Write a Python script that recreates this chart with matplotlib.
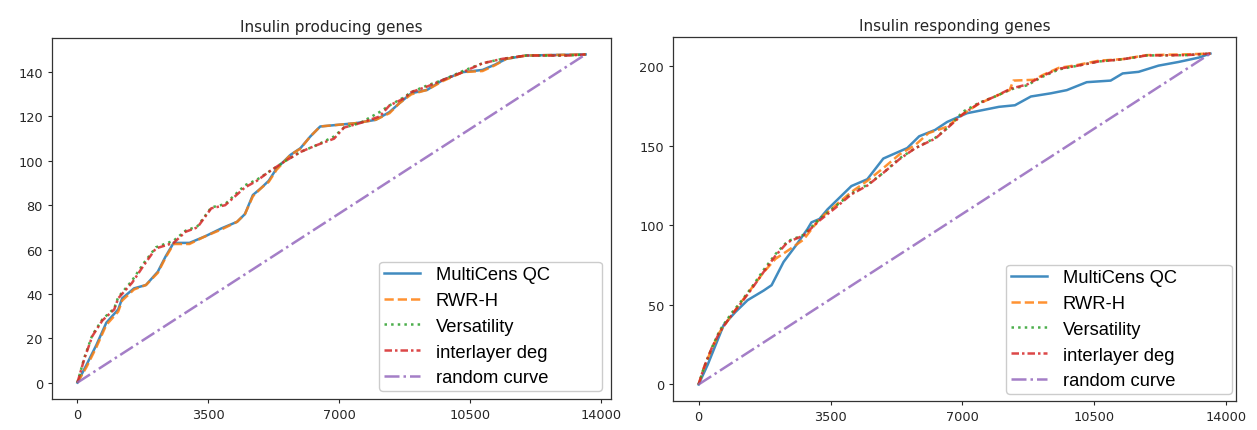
import matplotlib
matplotlib.use("Agg")
import matplotlib.pyplot as plt

# ---------------- data ----------------
titles = ["Insulin producing genes", "Insulin responding genes"]
labels = ["MultiCens QC", "RWR-H", "Versatility", "interlayer deg", "random curve"]
x_ticks = [0, 3500, 7000, 10500, 14000]

# Left panel: insulin producing genes
ip_multicens_x = [0, 243, 508, 772, 1090, 1196, 1513, 1831, 2148, 2360, 2571, 2994, 3418, 3842, 4265, 4476,
                  4688, 4900, 5111, 5323, 5693, 5958, 6223, 6487, 6805, 7440, 7969, 8339, 8603, 8921, 9344,
                  9767, 10296, 10825, 11143, 11460, 11989, 13577]
ip_multicens_y = [0, 8, 17, 27, 33, 38, 42.5, 44, 50, 57, 63, 63, 66, 69.5, 72.5, 76, 84.6, 87.6, 91, 96.6,
                  102.7, 105.7, 111, 115.5, 116, 117, 118.5, 122, 126, 130.5, 132, 136.5, 140, 141, 143.3,
                  146, 147.5, 148]
ip_rwrh_x = [0, 243, 508, 772, 1090, 1196, 1513, 1831, 2148, 2360, 2571, 2994, 3418, 3842, 4265, 4476,
             4688, 4900, 5111, 5323, 5693, 5958, 6223, 6487, 6805, 7440, 7969, 8339, 8603, 8921, 9344,
             9767, 10296, 10825, 11143, 11460, 11989, 13577]
ip_rwrh_y = [0, 7, 16, 26, 32, 37, 42, 44, 49.5, 56.5, 62.5, 62.5, 66, 69, 72.5, 76, 84, 87.6, 90.5, 96,
             102.7, 105.5, 111, 115.5, 116, 117, 118.5, 121.5, 126, 130, 132, 136, 140, 140.5, 143,
             146, 147.5, 148]
ip_versatility_x = [0, 190, 400, 667, 984, 1090, 1460, 1778, 2095, 2571, 2889, 3206, 3577, 3947, 4476,
                    4794, 5111, 5534, 5958, 6381, 6857, 7122, 7545, 8074, 8339, 8709, 8921, 9344, 9767,
                    10296, 10825, 11354, 11989, 13154, 13577]
ip_versatility_y = [0, 11.5, 21.5, 28.5, 33.5, 38.5, 46, 54, 61, 64, 68.5, 70.5, 79, 80.5, 89, 91.5, 95,
                    99.7, 104, 107, 111, 115, 117, 122, 125, 128.5, 131, 134, 136.5, 140.5, 144, 146,
                    147.5, 147.5, 148]
ip_interlayer_x = [0, 190, 400, 667, 984, 1090, 1460, 1778, 2095, 2571, 2889, 3206, 3577, 3947, 4476,
                   4794, 5111, 5534, 5958, 6381, 6857, 7122, 7545, 8074, 8339, 8709, 8921, 9344, 9767,
                   10296, 10825, 11354, 11989, 13154, 13577]
ip_interlayer_y = [0, 11, 21, 28, 33, 38, 45, 53, 60.5, 63, 68, 70, 78.6, 80, 88, 91, 95, 99.7, 104, 107,
                   110, 115, 117, 120, 125, 128, 131, 133.5, 136.5, 140, 144, 146, 147.5, 147.5, 148]
ip_random_x = [0, 13577]
ip_random_y = [0, 148]

# Right panel: insulin responding genes
ir_multicens_x = [0, 243, 666, 984, 1301, 1725, 1937, 2254, 2571, 2889, 2994, 3206, 3418, 4053, 4476, 4900,
                  5535, 5852, 6275, 6593, 7122, 7545, 7968, 8392, 8815, 9344, 9767, 10296, 10931, 11249,
                  11672, 12200, 12730, 13260, 13577]
ir_multicens_y = [0, 12.5, 37.4, 45.7, 53, 59, 62.4, 77, 87, 97.7, 101.9, 104, 110, 124.7, 129, 142, 148.6,
                  156, 160, 165, 170.5, 172.5, 174.5, 175.5, 181, 183, 185, 190, 191, 195.5, 196.5, 200.4,
                  202.7, 205.4, 208]
ir_rwrh_x = [0, 138, 349, 561, 878, 1090, 1407, 1725, 2042, 2360, 2783, 3206, 3630, 4053, 4476, 4900, 5323,
             5746, 6100, 6593, 7016, 7439, 7862, 8250, 8350, 8900, 9132, 9555, 9979, 10614, 11249, 11884,
             12942, 13577]
ir_rwrh_y = [0, 10, 22.5, 33, 43.7, 50.5, 60.5, 70.5, 79, 84, 91, 104, 112.5, 121, 128, 136, 144.5, 150.5,
             158, 162, 170, 176.5, 181, 185, 191, 191.5, 194.5, 199, 200.5, 203.5, 204.5, 207, 207.5, 208]
ir_versatility_x = [0, 138, 349, 561, 878, 1090, 1407, 1725, 2042, 2360, 2783, 3206, 3630, 4053, 4476, 4900,
                    5323, 5746, 6275, 6593, 7016, 7439, 7862, 8286, 8709, 9132, 9555, 9979, 10614, 11249,
                    11884, 12942, 13577]
ir_versatility_y = [0, 10.4, 23, 34, 45, 51, 61, 72, 82, 90, 94, 104, 112, 120, 125.5, 133, 142, 148.5, 155,
                    161, 171.5, 177, 181, 185.5, 188, 193.5, 198, 200, 203, 204.4, 206.8, 207, 208]
ir_interlayer_x = [0, 138, 349, 561, 878, 1090, 1407, 1725, 2042, 2360, 2783, 3206, 3630, 4053, 4476, 4900,
                   5323, 5746, 6275, 6593, 7016, 7439, 7862, 8286, 8709, 9132, 9555, 9979, 10614, 11249,
                   11884, 12942, 13577]
ir_interlayer_y = [0, 10.4, 22.9, 33, 43.7, 50, 60, 70.7, 81, 89.4, 93.6, 103, 111, 119.5, 125, 133, 141.5,
                   148.5, 154.5, 161, 170, 176.7, 181, 186, 188.5, 194, 198.5, 200, 203, 204.4, 206.8, 207,
                   208]
ir_random_x = [0, 13577]
ir_random_y = [0, 208]

panels = [
    [(ip_multicens_x, ip_multicens_y), (ip_rwrh_x, ip_rwrh_y), (ip_versatility_x, ip_versatility_y),
     (ip_interlayer_x, ip_interlayer_y), (ip_random_x, ip_random_y)],
    [(ir_multicens_x, ir_multicens_y), (ir_rwrh_x, ir_rwrh_y), (ir_versatility_x, ir_versatility_y),
     (ir_interlayer_x, ir_interlayer_y), (ir_random_x, ir_random_y)],
]

# ---------------- style ----------------
colors = ["#1f77b4", "#ff7f0e", "#2ca02c", "#d62728", "#9467bd"]
styles = ["-", "--", ":", (0, (3, 1.2, 1, 1.2)), (0, (6, 1.6, 1, 1.6))]

W, H = 1257, 431
fig = plt.figure(figsize=(W / 100, H / 100), dpi=100)

ax_boxes = [(52, 611, 39, 400), (673, 1236, 38, 402)]  # left, right, top, bottom in px
legend_boxes = [(379, 602, 262, 392), (1006, 1232, 263, 395)]
text_color = "#262626"

for i, (l, r, t, b) in enumerate(ax_boxes):
    ax = fig.add_axes([l / W, 1 - b / H, (r - l) / W, (b - t) / H])
    for (xs, ys), c, ls, lab in zip(panels[i], colors, styles, labels):
        ax.plot(xs, ys, color=c, linestyle=ls, linewidth=1.8, alpha=0.85, label=lab)
    ax.set_xticks(x_ticks)
    ax.tick_params(labelsize=9.3, colors=text_color, length=3, width=0.8)
    for sp in ax.spines.values():
        sp.set_color("#333333")
        sp.set_linewidth(0.9)
    ax.set_title(titles[i], fontsize=11, color=text_color, pad=5)
    ll, lr, lt, lb = legend_boxes[i]
    bx0 = (ll - l) / (r - l)
    bx1 = (lr - l) / (r - l)
    by0 = (b - lb) / (b - t)
    by1 = (b - lt) / (b - t)
    ax.legend(loc="lower left", bbox_to_anchor=(bx0, by0, bx1 - bx0, by1 - by0), mode="expand",
              borderaxespad=0, prop={"family": "Liberation Sans", "size": 13.2},
              handlelength=2.0, handletextpad=0.85, labelspacing=0.48, borderpad=0.25,
              frameon=True, fancybox=True, edgecolor="#cccccc", framealpha=1)

fig.savefig("out.png", dpi=100)
